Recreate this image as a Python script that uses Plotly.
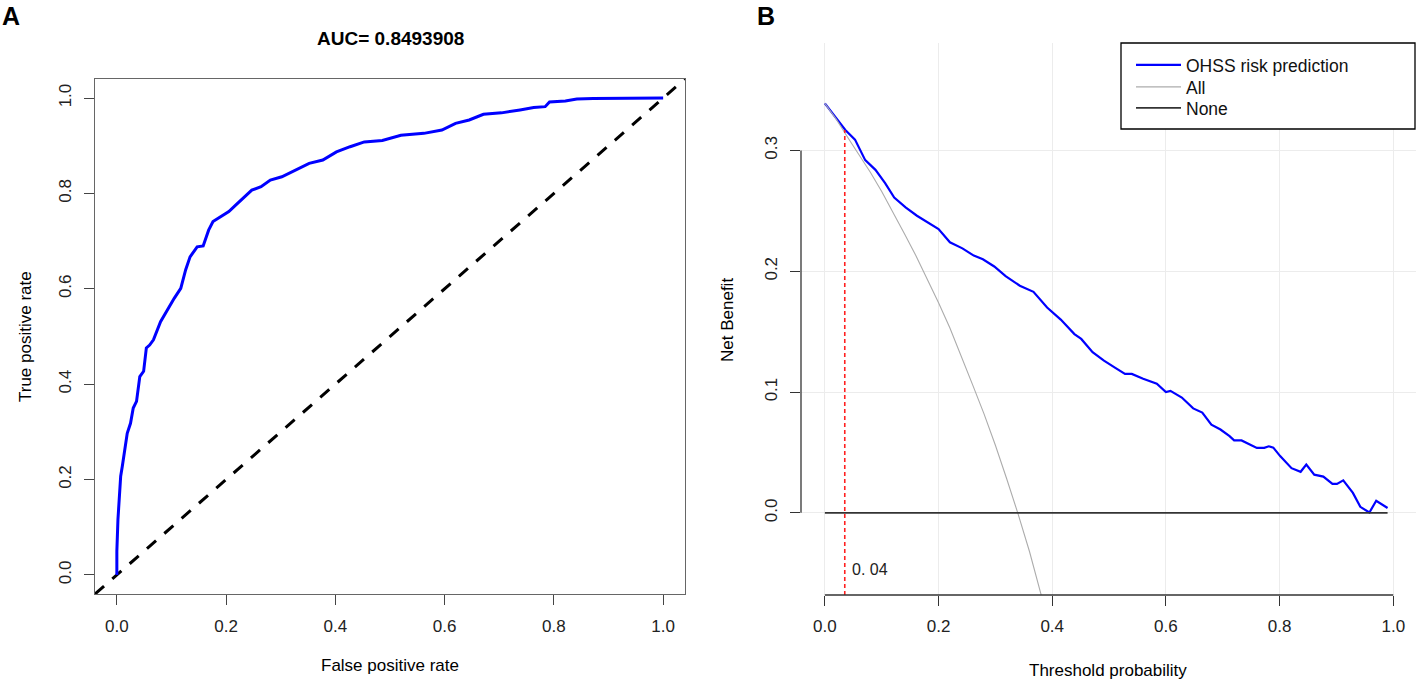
import plotly.graph_objects as go

# ROC curve (panel A)
fpr = [0.0, 0.0, 0.002, 0.004, 0.007, 0.010, 0.015, 0.019, 0.025, 0.030, 0.036, 0.042,
       0.049, 0.054, 0.060, 0.067, 0.080, 0.092, 0.105, 0.117, 0.126, 0.134, 0.147,
       0.158, 0.168, 0.176, 0.193, 0.205, 0.218, 0.235, 0.247, 0.264, 0.281, 0.302,
       0.327, 0.352, 0.377, 0.402, 0.427, 0.453, 0.486, 0.520, 0.562, 0.595, 0.620,
       0.645, 0.671, 0.704, 0.738, 0.763, 0.784, 0.792, 0.821, 0.842, 0.872, 0.956,
       0.964, 1.0]
tpr = [0.0, 0.05, 0.116, 0.151, 0.207, 0.228, 0.263, 0.297, 0.318, 0.350, 0.364, 0.416,
       0.427, 0.476, 0.482, 0.493, 0.531, 0.556, 0.580, 0.601, 0.640, 0.667, 0.688,
       0.690, 0.723, 0.741, 0.753, 0.762, 0.776, 0.793, 0.807, 0.814, 0.828, 0.835,
       0.849, 0.863, 0.870, 0.887, 0.898, 0.908, 0.911, 0.922, 0.926, 0.933, 0.947,
       0.954, 0.966, 0.969, 0.975, 0.980, 0.982, 0.992, 0.994, 0.998, 0.999, 0.999,
       1.0, 1.0]
diag = [-0.04, 1.04]
auc_text = "AUC= 0.8493908"
roc_ticks = [0.0, 0.2, 0.4, 0.6, 0.8, 1.0]

# decision curve (panel B)
thr_model = [0.0, 0.036, 0.053, 0.071, 0.089, 0.106, 0.122, 0.142, 0.162, 0.182, 0.200,
             0.220, 0.242, 0.262, 0.278, 0.298, 0.318, 0.343, 0.367, 0.391, 0.415, 0.439,
             0.451, 0.471, 0.491, 0.511, 0.528, 0.540, 0.560, 0.584, 0.600, 0.608, 0.628,
             0.648, 0.664, 0.680, 0.696, 0.712, 0.720, 0.733, 0.745, 0.760, 0.773, 0.781,
             0.789, 0.801, 0.821, 0.837, 0.847, 0.861, 0.877, 0.893, 0.901, 0.912, 0.929,
             0.942, 0.958, 0.970, 0.990]
nb_model = [0.339, 0.317, 0.309, 0.292, 0.284, 0.273, 0.261, 0.253, 0.246, 0.240, 0.235,
            0.224, 0.219, 0.213, 0.210, 0.204, 0.196, 0.188, 0.183, 0.170, 0.160, 0.148,
            0.144, 0.133, 0.126, 0.120, 0.115, 0.115, 0.111, 0.107, 0.100, 0.101, 0.0955,
            0.0865, 0.083, 0.073, 0.069, 0.0635, 0.060, 0.060, 0.057, 0.0538, 0.0538, 0.0551,
            0.054, 0.047, 0.037, 0.034, 0.040, 0.0316, 0.030, 0.024, 0.024, 0.0269, 0.0165,
            0.005, 0.0003, 0.010, 0.004]
thr_all = [0.0, 0.02, 0.04, 0.06, 0.08, 0.10, 0.12, 0.14, 0.16, 0.18, 0.20, 0.22, 0.24,
           0.26, 0.28, 0.30, 0.32, 0.34, 0.36, 0.38, 0.40]
nb_all = [0.339, 0.326, 0.311, 0.297, 0.282, 0.266, 0.249, 0.231, 0.213, 0.194, 0.174,
          0.153, 0.130, 0.106, 0.082, 0.056, 0.028, -0.001, -0.032, -0.066, -0.102]
thr_none = [0.0, 0.99]
nb_none = [0.0, 0.0]
cut_x = 0.035
cut_y = 0.317
cut_label = "0. 04"
dca_xticks = [0.0, 0.2, 0.4, 0.6, 0.8, 1.0]
dca_yticks = [0.0, 0.1, 0.2, 0.3]
dca_yrange = [-0.068, 0.389]

W, H = 1417, 680
FONT = "Liberation Sans, Arial, sans-serif"

fig = go.Figure()

# panel A
fig.add_trace(go.Scatter(x=diag, y=diag, mode="lines", showlegend=False,
                         line=dict(color="black", width=3, dash="12px,11px"),
                         xaxis="x", yaxis="y"))
fig.add_trace(go.Scatter(x=fpr, y=tpr, mode="lines", showlegend=False,
                         line=dict(color="#0000ff", width=3),
                         xaxis="x", yaxis="y"))

# panel B, one legend per entry so the rows sit as tight as in R
fig.add_trace(go.Scatter(x=thr_model, y=nb_model, mode="lines", name="OHSS risk prediction",
                         line=dict(color="#0000ff", width=2.2), xaxis="x2", yaxis="y2",
                         legend="legend"))
fig.add_trace(go.Scatter(x=thr_all, y=nb_all, mode="lines", name="All",
                         line=dict(color="#acacac", width=1.1), xaxis="x2", yaxis="y2",
                         legend="legend2"))
fig.add_trace(go.Scatter(x=thr_none, y=nb_none, mode="lines", name="None",
                         line=dict(color="#333333", width=1.6), xaxis="x2", yaxis="y2",
                         legend="legend3"))
fig.add_trace(go.Scatter(x=[cut_x, cut_x], y=[dca_yrange[0], cut_y], mode="lines",
                         showlegend=False, line=dict(color="#ff2020", width=1.6, dash="4px,3px"),
                         xaxis="x2", yaxis="y2"))

tickfont = dict(family=FONT, size=17, color="#222222")
legfont = dict(family=FONT, size=17.5, color="#111111")


def leg(ypix):
    return dict(x=1131 / W, y=1 - ypix / H, xanchor="left", yanchor="middle",
                bgcolor="rgba(0,0,0,0)", borderwidth=0, font=legfont, itemwidth=45)


fig.update_layout(
    width=W, height=H,
    margin=dict(l=0, r=0, t=0, b=0),
    paper_bgcolor="white", plot_bgcolor="white",
    font=dict(family=FONT, color="#222222"),
    xaxis=dict(domain=[95 / W, 685 / W], range=[-0.04, 1.04], anchor="y",
               tickvals=roc_ticks, ticktext=["%.1f" % v for v in roc_ticks],
               ticks="outside", ticklen=10, tickcolor="#444444", tickfont=tickfont,
               showline=True, mirror=True, linecolor="#666666", linewidth=1.3,
               showgrid=False, zeroline=False, ticklabelstandoff=6),
    yaxis=dict(domain=[1 - 594 / H, 1 - 79 / H], range=[-0.04, 1.04], anchor="x",
               tickvals=roc_ticks, ticktext=["%.1f" % v for v in roc_ticks],
               ticks="outside", ticklen=10, tickcolor="#444444", tickfont=tickfont,
               tickangle=-90, showline=True, mirror=True, linecolor="#666666",
               linewidth=1.3, showgrid=False, zeroline=False, ticklabelstandoff=6),
    xaxis2=dict(domain=[801 / W, 1416 / W], range=[-0.042, 1.04], anchor="y2",
                tickvals=dca_xticks, ticktext=["%.1f" % v for v in dca_xticks],
                ticks="outside", ticklen=10, tickcolor="#333333", tickfont=tickfont,
                showline=False, showgrid=True, gridcolor="#ececec", gridwidth=1,
                zeroline=False, ticklabelstandoff=6),
    yaxis2=dict(domain=[1 - 595 / H, 1 - 43 / H], range=dca_yrange, anchor="x2",
                tickvals=dca_yticks, ticktext=["%.1f" % v for v in dca_yticks],
                ticks="outside", ticklen=10, tickcolor="#333333", tickfont=tickfont,
                tickangle=-90, showline=False, showgrid=True, gridcolor="#ececec",
                gridwidth=1, zeroline=False, ticklabelstandoff=6),
    legend=leg(65),
    legend2=leg(87),
    legend3=leg(108),
)

# legend frame (R legend box runs to the figure edge)
fig.add_shape(type="rect", xref="paper", yref="paper",
              x0=1121 / W, x1=1415 / W, y0=1 - 129 / H, y1=1 - 43 / H,
              fillcolor="white", line=dict(color="black", width=1.3), layer="above")

# R-style axis lines spanning only the tick range in panel B
fig.add_shape(type="line", xref="x2", yref="y2 domain",
              x0=dca_xticks[0], x1=dca_xticks[-1], y0=0, y1=0,
              line=dict(color="#333333", width=1.3))
fig.add_shape(type="line", xref="x2 domain", yref="y2",
              x0=0, x1=0, y0=dca_yticks[0], y1=dca_yticks[-1],
              line=dict(color="#333333", width=1.3))

ann = [
    dict(text="<b>A</b>", x=0 / W, y=1 - 16 / H, xanchor="left", size=25),
    dict(text="<b>B</b>", x=766 / W, y=1 - 16 / H, xanchor="center", size=25),
    dict(text="<b>" + auc_text + "</b>", x=390 / W, y=1 - 38 / H, xanchor="center", size=19),
    dict(text="False positive rate", x=390 / W, y=1 - 665 / H, xanchor="center", size=17),
    dict(text="Threshold probability", x=1108 / W, y=1 - 670 / H, xanchor="center", size=17),
]
for a in ann:
    fig.add_annotation(text=a["text"], x=a["x"], y=a["y"], xref="paper", yref="paper",
                       xanchor=a["xanchor"], yanchor="middle", showarrow=False,
                       font=dict(family=FONT, size=a["size"], color="black"))

fig.add_annotation(text="True positive rate", x=25 / W, y=1 - 337 / H, xref="paper",
                   yref="paper", textangle=-90, showarrow=False, xanchor="center",
                   yanchor="middle", font=dict(family=FONT, size=17, color="black"))
fig.add_annotation(text="Net Benefit", x=727 / W, y=1 - 320 / H, xref="paper",
                   yref="paper", textangle=-90, showarrow=False, xanchor="center",
                   yanchor="middle", font=dict(family=FONT, size=17, color="black"))
fig.add_annotation(text=cut_label, x=cut_x + 0.01, y=-0.047, xref="x2", yref="y2",
                   xanchor="left", yanchor="middle", showarrow=False,
                   font=dict(family=FONT, size=16, color="#222222"))

# drop the default 8px page margin so the figure sits at the window corner
fig.write_html("out.html", config={"displayModeBar": False},
               post_script="document.body.style.margin='0px';")
